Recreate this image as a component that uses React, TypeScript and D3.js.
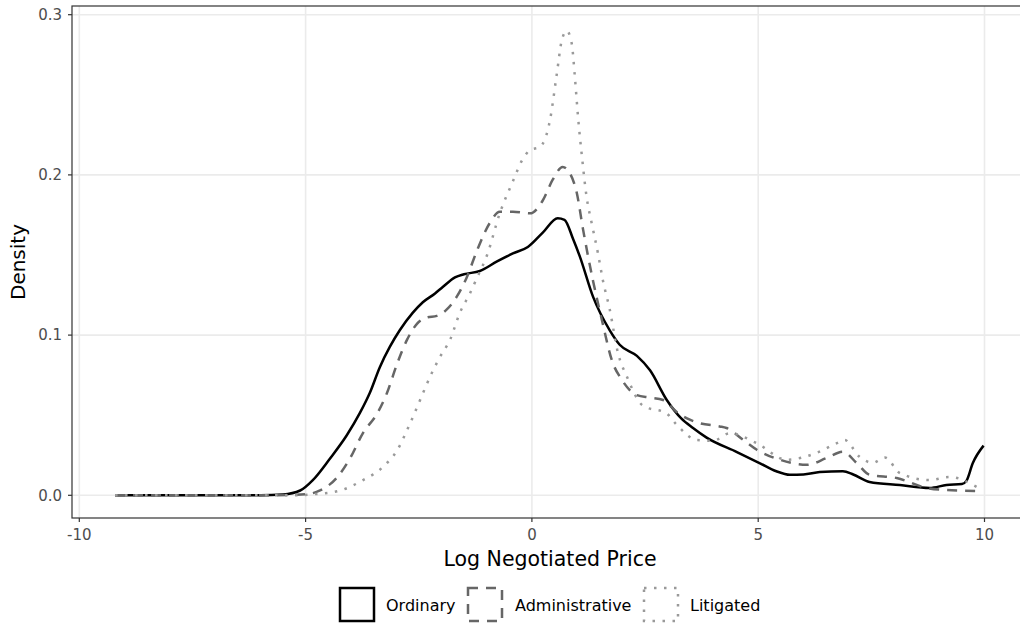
import React from 'react';
import * as d3 from 'd3';

// density curves: [log price, density]
const ordinary: [number, number][] = [
  [-9.21, 0], [-6, 0], [-5.5, 0.0005], [-5.12, 0.003], [-4.84, 0.0095], [-4.46, 0.023],
  [-4.09, 0.0375], [-3.8, 0.0514], [-3.58, 0.064], [-3.36, 0.08], [-3.14, 0.0926],
  [-2.92, 0.103], [-2.63, 0.114], [-2.41, 0.1205], [-2.14, 0.126], [-1.97, 0.13],
  [-1.7, 0.136], [-1.5, 0.138], [-1.15, 0.14], [-0.77, 0.146], [-0.42, 0.151],
  [-0.09, 0.155], [0.24, 0.164], [0.57, 0.173], [0.72, 0.172], [0.91, 0.16],
  [1.06, 0.149], [1.35, 0.124], [1.72, 0.103], [1.94, 0.094], [2.32, 0.087],
  [2.61, 0.078], [2.98, 0.0595], [3.3, 0.048], [3.56, 0.042], [3.86, 0.036],
  [4.53, 0.027], [5.04, 0.02], [5.4, 0.015], [5.7, 0.0128], [6.0, 0.013],
  [6.36, 0.0145], [6.87, 0.015], [7.1, 0.013], [7.46, 0.0083], [8.13, 0.0064],
  [8.79, 0.0046], [9.16, 0.0064], [9.5, 0.007], [9.6, 0.009], [9.74, 0.02], [9.98, 0.031],
];

const administrative: [number, number][] = [
  [-9.21, 0], [-6, 0], [-5.2, 0.0003], [-4.9, 0.001], [-4.68, 0.003], [-4.31, 0.011],
  [-4.02, 0.023], [-3.73, 0.039], [-3.42, 0.051], [-3.2, 0.064], [-2.98, 0.082],
  [-2.76, 0.097], [-2.54, 0.107], [-2.32, 0.111], [-2.1, 0.112], [-1.88, 0.116],
  [-1.66, 0.124], [-1.44, 0.136], [-1.21, 0.153], [-0.93, 0.17], [-0.71, 0.177],
  [-0.42, 0.177], [-0.04, 0.176], [0.24, 0.184], [0.46, 0.197], [0.68, 0.205],
  [0.84, 0.201], [0.99, 0.189], [1.13, 0.166], [1.35, 0.134], [1.55, 0.109],
  [1.77, 0.084], [1.99, 0.072], [2.32, 0.0625], [2.61, 0.061], [2.9, 0.0595],
  [3.2, 0.052], [3.49, 0.0472], [3.71, 0.045], [4.15, 0.043], [4.3, 0.042],
  [4.65, 0.035], [4.97, 0.0284], [5.48, 0.0222], [6.07, 0.019], [6.52, 0.0234],
  [6.87, 0.0272], [7.18, 0.02], [7.46, 0.0128], [8.06, 0.0108], [8.72, 0.0046],
  [9.16, 0.0033], [9.86, 0.0027],
];

const litigated: [number, number][] = [
  [-9.21, 0], [-6, 0], [-5.2, 0], [-4.9, 0.0005], [-4.24, 0.003], [-3.73, 0.0095],
  [-3.29, 0.0177], [-2.98, 0.028], [-2.69, 0.045], [-2.47, 0.0595], [-2.25, 0.074],
  [-2.03, 0.0864], [-1.81, 0.097], [-1.59, 0.114], [-1.37, 0.126], [-1.21, 0.136],
  [-0.99, 0.15], [-0.71, 0.176], [-0.42, 0.196], [-0.2, 0.21], [-0.04, 0.2155],
  [0.18, 0.2175], [0.4, 0.2343], [0.55, 0.263], [0.66, 0.284], [0.77, 0.29],
  [0.88, 0.282], [0.95, 0.261], [1.02, 0.236], [1.1, 0.213], [1.21, 0.186],
  [1.32, 0.17], [1.46, 0.151], [1.57, 0.134], [1.72, 0.116], [1.9, 0.089],
  [2.1, 0.074], [2.45, 0.056], [2.98, 0.051], [3.2, 0.044], [3.64, 0.0345],
  [4.0, 0.034], [4.37, 0.0387], [4.97, 0.0325], [5.63, 0.0222], [6.29, 0.0265],
  [6.74, 0.0326], [6.91, 0.0345], [7.24, 0.024], [7.53, 0.0203], [7.8, 0.0236],
  [8.13, 0.0139], [8.79, 0.0095], [9.23, 0.0114], [9.83, 0.0052],
];

const xTicks = [-10, -5, 0, 5, 10];
const yTicks = [0, 0.1, 0.2, 0.3];

const series = [
  { name: 'Ordinary', data: ordinary, color: '#000000', dash: 'none' },
  { name: 'Administrative', data: administrative, color: '#666666', dash: '10,8' },
  { name: 'Litigated', data: litigated, color: '#9a9a9a', dash: '2.5,7.5' },
];

const FONT = 'DejaVu Sans, sans-serif';

export default function App() {
  const W = 1020;
  const H = 624;
  const panel = { left: 72, top: 6, right: 1028, bottom: 518 };

  const x = d3.scaleLinear().domain([-10, 10]).range([79.3, 984.5]);
  const y = d3.scaleLinear().domain([0, 0.3]).range([495.3, 14.7]);

  const line = d3.line<[number, number]>()
    .x(d => x(d[0]))
    .y(d => y(d[1]))
    .curve(d3.curveMonotoneX);

  // legend layout (key box, then label)
  const legendItems = [
    { keyX: 340, textX: 386 },
    { keyX: 468, textX: 515 },
    { keyX: 644, textX: 690 },
  ];

  return (
    <svg width={W} height={H} style={{ position: 'absolute', left: 0, top: 0, background: '#fff' }}>
      <rect x={0} y={0} width={W} height={H} fill="#fff" />
      {/* grid */}
      {yTicks.map(t => (
        <line key={'gy' + t} x1={panel.left} x2={panel.right} y1={y(t)} y2={y(t)}
          stroke="#ebebeb" strokeWidth={1.6} />
      ))}
      {xTicks.map(t => (
        <line key={'gx' + t} x1={x(t)} x2={x(t)} y1={panel.top} y2={panel.bottom}
          stroke="#ebebeb" strokeWidth={1.6} />
      ))}
      {/* curves */}
      {series.map(s => (
        <path key={s.name} d={line(s.data) || ''} fill="none" stroke={s.color}
          strokeWidth={2.5} strokeDasharray={s.dash} strokeLinejoin="round" />
      ))}
      {/* panel border */}
      <rect x={panel.left} y={panel.top} width={panel.right - panel.left}
        height={panel.bottom - panel.top} fill="none" stroke="#333333" strokeWidth={1.2} />
      {/* x axis */}
      {xTicks.map(t => (
        <g key={'xt' + t}>
          <line x1={x(t)} x2={x(t)} y1={panel.bottom} y2={panel.bottom + 4}
            stroke="#333333" strokeWidth={1.2} />
          <text x={x(t)} y={panel.bottom + 22} textAnchor="middle" fontFamily={FONT}
            fontSize={15} fill="#4d4d4d">{t}</text>
        </g>
      ))}
      {/* y axis */}
      {yTicks.map(t => (
        <g key={'yt' + t}>
          <line x1={panel.left - 4} x2={panel.left} y1={y(t)} y2={y(t)}
            stroke="#333333" strokeWidth={1.2} />
          <text x={panel.left - 10} y={y(t)} dy="0.35em" textAnchor="end" fontFamily={FONT}
            fontSize={15} fill="#4d4d4d">{t.toFixed(1)}</text>
        </g>
      ))}
      <text x={(panel.left + panel.right) / 2} y={566} textAnchor="middle" fontFamily={FONT}
        fontSize={20.5} fill="#000">Log Negotiated Price</text>
      <text transform={`translate(25, ${(panel.top + panel.bottom) / 2}) rotate(-90)`}
        textAnchor="middle" fontFamily={FONT} fontSize={20} fill="#000">Density</text>
      {/* legend */}
      {series.map((s, i) => (
        <g key={'lg' + s.name}>
          <rect x={legendItems[i].keyX} y={588} width={34} height={33} fill="#fff"
            stroke={s.color} strokeWidth={2.5} strokeDasharray={s.dash} />
          <text x={legendItems[i].textX} y={611} fontFamily={FONT} fontSize={16}
            fill="#000">{s.name}</text>
        </g>
      ))}
    </svg>
  );
}
